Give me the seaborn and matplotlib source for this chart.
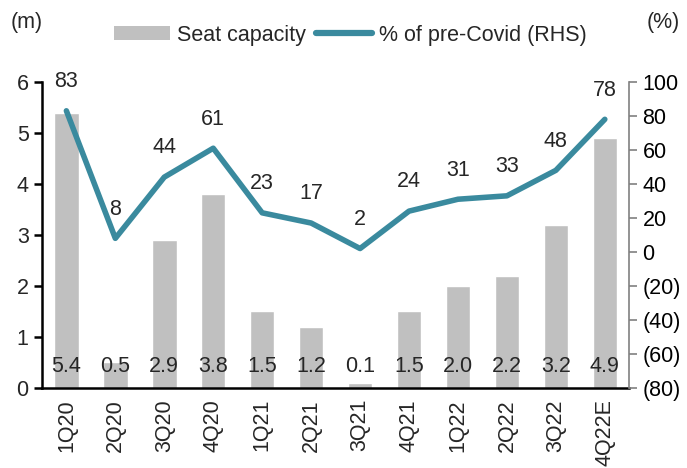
import numpy as np
import pandas as pd
import matplotlib
matplotlib.use("Agg")
import matplotlib.pyplot as plt
import seaborn as sns
from matplotlib.patches import Patch
from matplotlib.lines import Line2D

quarters = ["1Q20", "2Q20", "3Q20", "4Q20", "1Q21", "2Q21", "3Q21", "4Q21",
            "1Q22", "2Q22", "3Q22", "4Q22E"]
seat_capacity = [5.4, 0.5, 2.9, 3.8, 1.5, 1.2, 0.1, 1.5, 2.0, 2.2, 3.2, 4.9]
pct_pre_covid = [83, 8, 44, 61, 23, 17, 2, 24, 31, 33, 48, 78]

df = pd.DataFrame({"quarter": quarters, "seat": seat_capacity, "pct": pct_pre_covid})

sns.set_style("white")
plt.rcParams['font.family'] = ['Liberation Sans', 'DejaVu Sans']
fs = 15.5

bar_col = "#c0c0c0"
line_col = "#3a8a9e"

fig = plt.figure(figsize=(6.87, 4.68), dpi=100)
ax = fig.add_axes([0.061, 0.171, 0.855, 0.654])
sns.barplot(data=df, x="quarter", y="seat", color=bar_col, width=0.5,
            saturation=1, ax=ax)
ax.set_ylim(0, 6)
ax.set_xlim(-0.5, len(quarters) - 0.5)
ax.set_xlabel("")
ax.set_ylabel("")

# bar value labels near bottom
for i, v in enumerate(seat_capacity):
    ax.text(i, 0.43, f"{v:.1f}", ha="center", va="center", fontsize=fs)

ax2 = ax.twinx()
sns.lineplot(x=np.arange(len(quarters)), y=df["pct"], color=line_col,
             linewidth=4, ax=ax2, solid_capstyle="round")
ax2.set_ylim(-80, 100)
ax2.set_yticks(range(-80, 101, 20))
ax2.set_yticklabels([f"({abs(t)})" if t < 0 else str(t) for t in range(-80, 101, 20)])
ax2.set_ylabel("")
for i, v in enumerate(pct_pre_covid):
    ax2.annotate(str(v), (i, v), xytext=(0, 21), textcoords="offset points",
                 ha="center", va="center", fontsize=fs)

# spines and ticks
ax.spines["top"].set_visible(False)
ax2.spines["top"].set_visible(False)
ax.spines["right"].set_visible(False)
ax2.spines["left"].set_visible(False)
ax2.spines["bottom"].set_visible(False)
ax.spines["left"].set_color("black")
ax.spines["left"].set_linewidth(1.8)
ax.spines["bottom"].set_color("black")
ax.spines["bottom"].set_linewidth(1.8)
ax2.spines["right"].set_color("#808080")
ax2.spines["right"].set_linewidth(1.2)

ax.set_xticks(np.arange(len(quarters)))
ax.set_xticklabels(quarters, rotation=90)
ax.set_xticks(np.arange(-0.5, len(quarters), 1), minor=True)
ax.tick_params(axis="x", which="major", length=0, pad=8, labelsize=fs)
ax.tick_params(axis="x", which="minor", length=6, width=1.8, color="black", direction="out")
ax.tick_params(axis="y", length=6, width=1.8, color="black", direction="out", left=True, labelsize=fs)
ax2.tick_params(axis="y", length=6, width=1.2, color="#808080", direction="out", right=True,
                labelsize=fs, labelcolor="black")

fig.text(0.015, 0.952, "(m)", fontsize=fs, ha="left", va="center")
fig.text(0.99, 0.952, "(%)", fontsize=fs, ha="right", va="center")

handles = [Patch(facecolor=bar_col, edgecolor="none"),
           Line2D([0], [0], color=line_col, linewidth=4.5)]
fig.legend(handles, ["Seat capacity", "% of pre-Covid (RHS)"], loc="center",
           bbox_to_anchor=(0.51, 0.925), ncol=2, frameon=False, fontsize=fs,
           handlelength=2.6, handleheight=0.6, columnspacing=0.5, handletextpad=0.3)

fig.savefig("out.png", dpi=100)
